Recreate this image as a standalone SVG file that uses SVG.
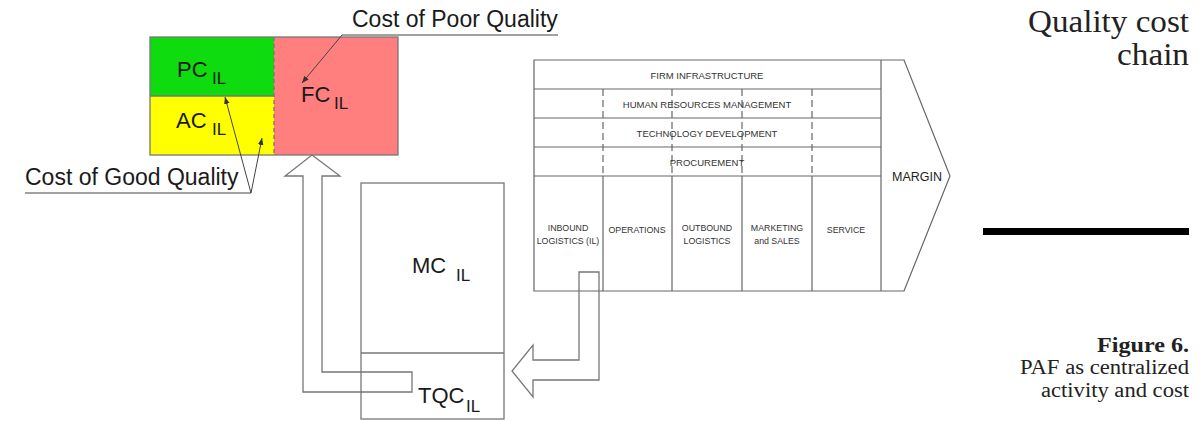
<svg xmlns="http://www.w3.org/2000/svg" width="1199" height="421" viewBox="0 0 1199 421">
  <defs>
    <marker id="tip" viewBox="0 0 10 10" refX="10" refY="5" markerWidth="7" markerHeight="7" orient="auto" markerUnits="userSpaceOnUse">
      <path d="M0,1 L10,5 L0,9 z" fill="#333"/>
    </marker>
  </defs>
  <style>
    .edge { fill: none; stroke: #777; stroke-width: 1.3; }
    .thin { fill: none; stroke: #666; stroke-width: 1.2; }
    .dash { fill: none; stroke: #666; stroke-width: 1.2; stroke-dasharray: 7 4; }
    .lead { fill: none; stroke: #444; stroke-width: 1; }
    .big { font-family: "Liberation Sans", Arial, sans-serif; font-size: 22px; fill: #1a1a1a; }
    .sub { font-family: "Liberation Sans", Arial, sans-serif; font-size: 17px; fill: #1a1a1a; }
    .lbl { font-family: "Liberation Sans", Arial, sans-serif; font-size: 23px; fill: #1a1a1a; }
    .vc { font-family: "Liberation Sans", Arial, sans-serif; font-size: 9.5px; fill: #333; text-anchor: middle; }
    .vcs { font-family: "Liberation Sans", Arial, sans-serif; font-size: 8.8px; fill: #333; text-anchor: middle; }
    .margin { font-family: "Liberation Sans", Arial, sans-serif; font-size: 12.5px; fill: #222; text-anchor: middle; }
    .serif { font-family: "Liberation Serif", "Times New Roman", serif; fill: #222; text-anchor: end; }
  </style>

  <!-- cost blocks: prevention, appraisal, failure -->
  <g id="cost-blocks">
    <rect x="150" y="37" width="124" height="59" fill="#0EDC0E"/>
    <rect x="150" y="96" width="124" height="59" fill="#FFFF00"/>
    <rect x="274" y="37" width="124" height="118" fill="#FF7F7F"/>
    <rect x="150" y="37" width="248" height="118" class="edge"/>
    <line x1="150" y1="96" x2="274" y2="96" class="edge"/>
    <line x1="274" y1="37" x2="274" y2="155" class="edge" stroke-dasharray="4 3"/>
    <text x="177" y="77" class="big">PC</text><text x="212" y="84" class="sub">IL</text>
    <text x="176" y="128" class="big">AC</text><text x="212" y="135" class="sub">IL</text>
    <text x="301" y="102" class="big">FC</text><text x="334" y="109" class="sub">IL</text>
  </g>

  <!-- leader labels -->
  <g id="poor-quality">
    <text x="352" y="27" class="lbl">Cost of Poor Quality</text>
    <polyline points="558,35 342,35 302,83" class="lead" marker-end="url(#tip)"/>
  </g>
  <g id="good-quality">
    <text x="25" y="185" class="lbl">Cost of Good Quality</text>
    <polyline points="25,193 251,193 225,97" class="lead" marker-end="url(#tip)"/>
    <line x1="251" y1="193" x2="262" y2="138" class="lead" marker-end="url(#tip)"/>
  </g>

  <!-- material cost / total quality cost -->
  <g id="mc-tqc">
    <rect x="361" y="183" width="143" height="236" fill="#fff" class="edge"/>
    <line x1="361" y1="353" x2="504" y2="353" class="edge"/>
    <text x="412" y="273" class="big">MC</text><text x="456" y="281" class="sub">IL</text>
    <text x="418" y="403" class="big">TQC</text><text x="466" y="412" class="sub">IL</text>
  </g>

  <!-- value chain -->
  <g id="value-chain">
    <polygon points="534,60 904,60 950,176 904,291 534,291" fill="#fff" class="thin"/>
    <line x1="881" y1="60" x2="881" y2="291" class="thin"/>
    <line x1="534" y1="89" x2="881" y2="89" class="thin"/>
    <line x1="534" y1="118" x2="881" y2="118" class="thin"/>
    <line x1="534" y1="147" x2="881" y2="147" class="thin"/>
    <line x1="534" y1="176" x2="881" y2="176" class="thin"/>
    <line x1="603" y1="89" x2="603" y2="176" class="dash"/>
    <line x1="672" y1="89" x2="672" y2="176" class="dash"/>
    <line x1="742" y1="89" x2="742" y2="176" class="dash"/>
    <line x1="812" y1="89" x2="812" y2="176" class="dash"/>
    <line x1="603" y1="176" x2="603" y2="291" class="thin"/>
    <line x1="672" y1="176" x2="672" y2="291" class="thin"/>
    <line x1="742" y1="176" x2="742" y2="291" class="thin"/>
    <line x1="812" y1="176" x2="812" y2="291" class="thin"/>
    <text x="707" y="79" class="vc">FIRM INFRASTRUCTURE</text>
    <text x="707" y="108" class="vc">HUMAN RESOURCES MANAGEMENT</text>
    <text x="707" y="137" class="vc">TECHNOLOGY DEVELOPMENT</text>
    <text x="707" y="166" class="vc">PROCUREMENT</text>
    <text x="568" y="231" class="vcs">INBOUND</text>
    <text x="568" y="244" class="vcs">LOGISTICS (IL)</text>
    <text x="637" y="233" class="vcs">OPERATIONS</text>
    <text x="707" y="231" class="vcs">OUTBOUND</text>
    <text x="707" y="244" class="vcs">LOGISTICS</text>
    <text x="777" y="231" class="vcs">MARKETING</text>
    <text x="777" y="244" class="vcs">and SALES</text>
    <text x="846" y="233" class="vcs">SERVICE</text>
    <text x="917" y="181" class="margin">MARGIN</text>
  </g>

  <!-- flow arrows -->
  <g id="connectors">
    <polygon points="579,272 599,272 599,380 533,380 533,397 512,371 533,345 533,360 579,360" fill="#fff" class="edge"/>
    <polygon points="312,155 340,176 322,176 322,372 412,372 412,392 303,392 303,176 285,176" fill="#fff" class="edge"/>
  </g>

  <!-- caption column -->
  <g id="caption">
    <text x="1189" y="32" class="serif" font-size="31" textLength="161" lengthAdjust="spacingAndGlyphs">Quality cost</text>
    <text x="1189" y="65" class="serif" font-size="31" textLength="72" lengthAdjust="spacingAndGlyphs">chain</text>
    <rect x="983" y="228" width="206" height="7" fill="#000"/>
    <text x="1189" y="352" class="serif" font-size="20" font-weight="bold" textLength="92" lengthAdjust="spacingAndGlyphs">Figure 6.</text>
    <text x="1189" y="374" class="serif" font-size="20" textLength="169" lengthAdjust="spacingAndGlyphs">PAF as centralized</text>
    <text x="1189" y="397" class="serif" font-size="20" textLength="148" lengthAdjust="spacingAndGlyphs">activity and cost</text>
  </g>
</svg>
